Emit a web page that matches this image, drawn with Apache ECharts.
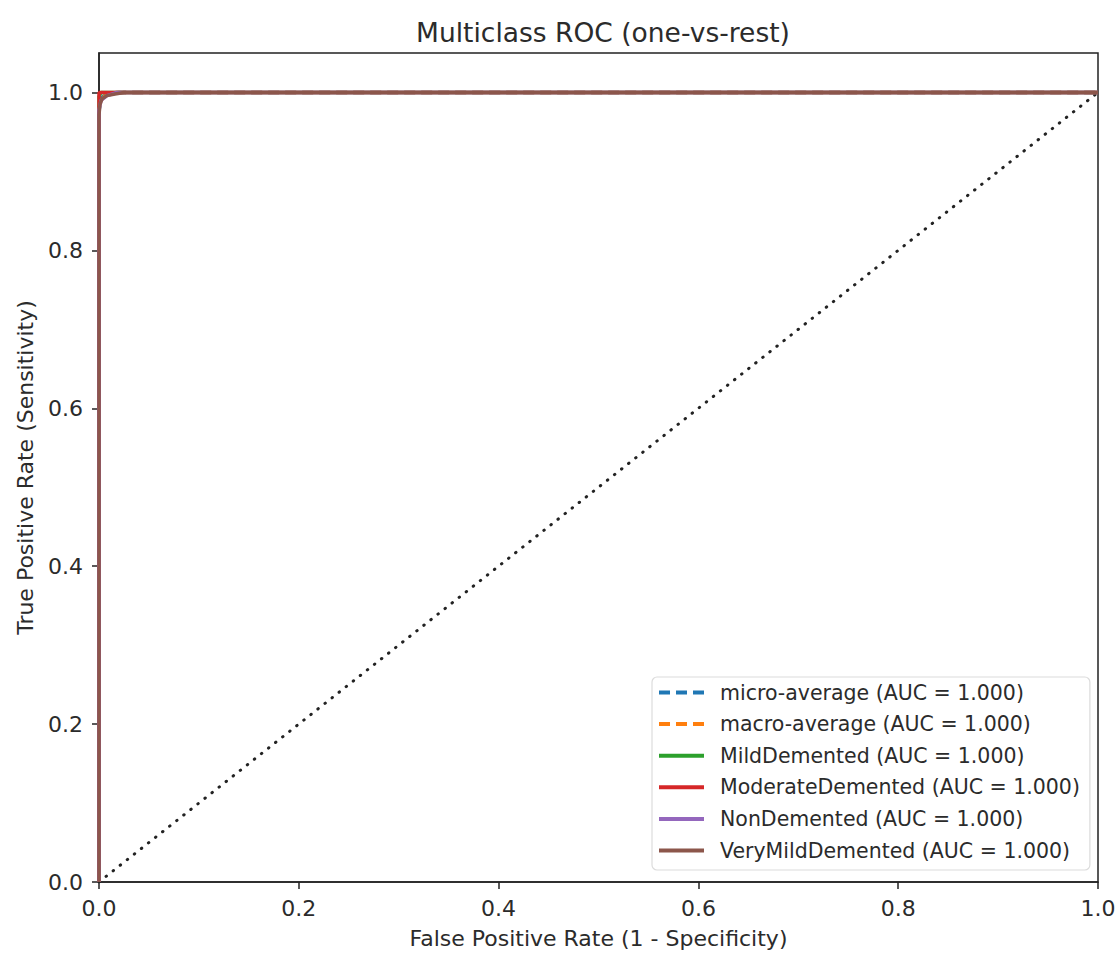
<!DOCTYPE html>
<html>
<head>
<meta charset="utf-8">
<script src="https://cdn.jsdelivr.net/npm/echarts@6/dist/echarts.min.js"></script>
<style>
  html, body { margin: 0; padding: 0; background: #fff; }
  #chart { width: 1120px; height: 954px; }
</style>
</head>
<body>
<div id="chart"></div>
<script>
// ROC points (fpr, tpr)
const seriesNames = [
  'micro-average (AUC = 1.000)',
  'macro-average (AUC = 1.000)',
  'MildDemented (AUC = 1.000)',
  'ModerateDemented (AUC = 1.000)',
  'NonDemented (AUC = 1.000)',
  'VeryMildDemented (AUC = 1.000)'
]
const seriesColors = ['#1f77b4', '#ff7f0e', '#2ca02c', '#d62728', '#9467bd', '#8c564b']
const seriesDash = ['dashed', 'dashed', 'solid', 'solid', 'solid', 'solid']

const fprMicro = [0, 0, 0.001, 0.004, 0.010, 0.020, 1]
const tprMicro = [0, 0.975, 0.988, 0.995, 0.998, 1, 1]
const fprMacro = [0, 0, 0.002, 0.006, 0.015, 1]
const tprMacro = [0, 0.980, 0.990, 0.996, 1, 1]
const fprMild = [0, 0, 0.002, 1]
const tprMild = [0, 0.995, 1, 1]
const fprModerate = [0, 0, 1]
const tprModerate = [0, 1, 1]
const fprNon = [0, 0, 0.002, 0.008, 0.018, 1]
const tprNon = [0, 0.978, 0.990, 0.996, 1, 1]
const fprVeryMild = [0, 0, 0.001, 0.003, 0.008, 0.016, 0.025, 1]
const tprVeryMild = [0, 0.972, 0.985, 0.992, 0.996, 0.998, 1, 1]

const chanceX = [0, 1]
const chanceY = [0, 1]

const xTicks = [0, 0.2, 0.4, 0.6, 0.8, 1.0]
const yTicks = [0, 0.2, 0.4, 0.6, 0.8, 1.0]

const curves = [
  [fprMicro, tprMicro],
  [fprMacro, tprMacro],
  [fprMild, tprMild],
  [fprModerate, tprModerate],
  [fprNon, tprNon],
  [fprVeryMild, tprVeryMild]
]

const zip = (xs, ys) => xs.map((x, i) => [x, ys[i]])

const chart = echarts.init(document.getElementById('chart'), null, { renderer: 'svg' })

const font = 'DejaVu Sans'
const ink = '#2b2b2b'
const series = curves.map((c, i) => ({
  name: seriesNames[i],
  type: 'line',
  data: zip(c[0], c[1]),
  showSymbol: false,
  symbol: 'none',
  clip: false,
  lineStyle: { color: seriesColors[i], width: 3.5, type: seriesDash[i] === 'dashed' ? [11, 6] : 'solid' },
  itemStyle: { color: seriesColors[i] },
  z: 3 + i
}))

series.unshift({
  name: 'chance',
  type: 'line',
  data: zip(chanceX, chanceY),
  showSymbol: false,
  symbol: 'none',
  lineStyle: { color: '#222', width: 3, type: [0.5, 8.5], cap: 'round' },
  z: 2
})

chart.setOption({
  backgroundColor: '#fff',
  animation: false,
  title: {
    text: 'Multiclass ROC (one-vs-rest)',
    left: 598, top: 14, textAlign: 'center',
    textStyle: { fontFamily: font, fontSize: 26.5, fontWeight: 'normal', color: ink }
  },
  grid: { left: 99, right: 22, top: 53, bottom: 70, show: true, borderColor: '#222', borderWidth: 1.5 },
  legend: {
    data: seriesNames,
    orient: 'vertical',
    left: 652, top: 677,
    itemWidth: 45, itemHeight: 22, itemGap: 10.6,
    padding: [5, 10, 9, 5],
    backgroundColor: '#fff',
    borderColor: '#dcdcdc', borderWidth: 1.2, borderRadius: 5,
    itemStyle: { opacity: 0 },
    lineStyle: { width: 4 },
    textStyle: { fontFamily: font, fontSize: 20.5, color: ink, padding: [0, 0, 0, 11] }
  },
  xAxis: {
    type: 'value', min: 0, max: 1, interval: 0.2,
    name: 'False Positive Rate (1 - Specificity)',
    nameLocation: 'middle', nameGap: 45,
    nameTextStyle: { fontFamily: font, fontSize: 22, color: ink },
    axisLine: { show: true, lineStyle: { color: '#222', width: 1.5 } },
    axisTick: { show: true, length: 7, lineStyle: { color: '#222', width: 1.5 } },
    axisLabel: { fontFamily: font, fontSize: 22, color: ink, margin: 15,
      formatter: v => xTicks.includes(v) ? v.toFixed(1) : '' },
    splitLine: { show: false }
  },
  yAxis: {
    type: 'value', min: 0, max: 1.05, interval: 0.2,
    name: 'True Positive Rate (Sensitivity)',
    nameLocation: 'middle', nameGap: 63,
    nameTextStyle: { fontFamily: font, fontSize: 22, color: ink },
    axisLine: { show: true, lineStyle: { color: '#222', width: 1.5 } },
    axisTick: { show: true, length: 7, lineStyle: { color: '#222', width: 1.5 } },
    axisLabel: { fontFamily: font, fontSize: 22, color: ink, margin: 16,
      showMaxLabel: false,
      formatter: v => yTicks.some(t => Math.abs(t - v) < 1e-9) ? v.toFixed(1) : '' },
    splitLine: { show: false }
  },
  series: series
})
</script>
</body>
</html>
